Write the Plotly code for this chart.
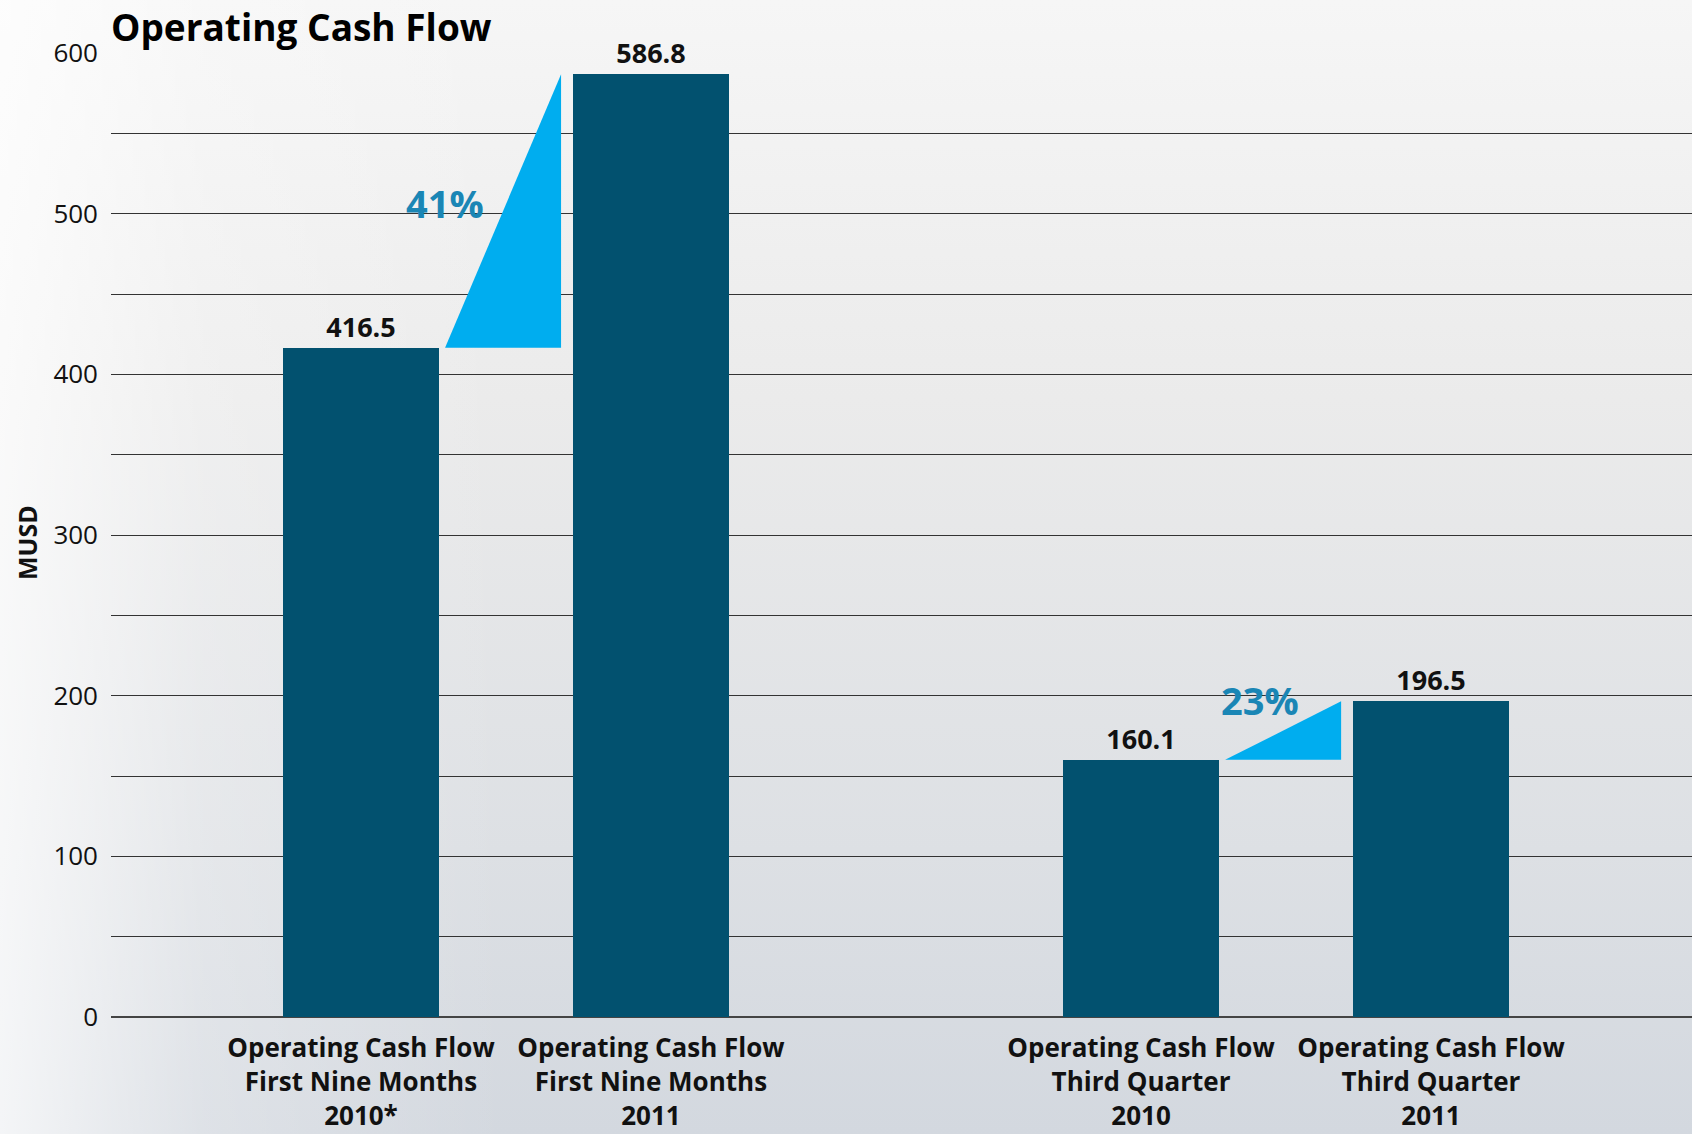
import plotly.graph_objects as go
import urllib.parse

# ---- data ----
categories = [
    "Operating Cash Flow<br>First Nine Months<br>2010*",
    "Operating Cash Flow<br>First Nine Months<br>2011",
    "Operating Cash Flow<br>Third Quarter<br>2010",
    "Operating Cash Flow<br>Third Quarter<br>2011",
]
values = [416.5, 586.8, 160.1, 196.5]
value_labels = ["416.5", "586.8", "160.1", "196.5"]
groups = [0, 0, 1, 1]
growth_labels = ["41%", "23%"]
y_ticks = [0, 100, 200, 300, 400, 500, 600]

# ---- layout helpers ----
GROUP_GAP = 0.69
BAR_W = 0.54
xpos = [i + GROUP_GAP * g for i, g in enumerate(groups)]

BAR_COLOR = "#02516f"
TRI_COLOR = "#00adef"
PCT_COLOR = "#1a86b5"
FONT = "Open Sans"

fig = go.Figure()

# growth triangles between bar pairs
for k in range(2):
    a, b = 2 * k, 2 * k + 1
    x0 = xpos[a] + BAR_W / 2 + 0.02
    x1 = xpos[b] - BAR_W / 2 - 0.04
    fig.add_trace(go.Scatter(
        x=[x0, x1, x1, x0], y=[values[a], values[a], values[b], values[a]],
        mode="lines", fill="toself", fillcolor=TRI_COLOR,
        line=dict(width=0, color=TRI_COLOR), hoverinfo="skip", showlegend=False,
    ))

fig.add_trace(go.Bar(
    x=xpos, y=values, width=BAR_W,
    marker=dict(color=BAR_COLOR, line=dict(width=0)),
    text=value_labels, textposition="outside", cliponaxis=False,
    textfont=dict(family=FONT, size=27, color="#111111", weight="bold"),
    showlegend=False,
))

# background gradient as svg image
svg = (
    "<svg xmlns='http://www.w3.org/2000/svg' width='1692' height='1134'>"
    "<defs>"
    "<linearGradient id='v' x1='0' y1='0' x2='0' y2='1'>"
    "<stop offset='0' stop-color='#f6f6f6'/>"
    "<stop offset='0.35' stop-color='#ebebeb'/>"
    "<stop offset='0.75' stop-color='#dde0e4'/>"
    "<stop offset='1' stop-color='#d3d8df'/>"
    "</linearGradient>"
    "<linearGradient id='h' x1='0' y1='0' x2='1' y2='0'>"
    "<stop offset='0' stop-color='#ffffff' stop-opacity='0.75'/>"
    "<stop offset='0.12' stop-color='#ffffff' stop-opacity='0.25'/>"
    "<stop offset='0.3' stop-color='#ffffff' stop-opacity='0'/>"
    "</linearGradient>"
    "</defs>"
    "<rect width='1692' height='1134' fill='url(#v)'/>"
    "<rect width='1692' height='1134' fill='url(#h)'/>"
    "</svg>"
)
bg_uri = "data:image/svg+xml;charset=utf-8," + urllib.parse.quote(svg)

annotations = []
# growth labels
ann_pos = [
    (xpos[0] + 0.29, (values[0] + values[1]) / 2 + 5),
    (xpos[2] + 0.41, values[3] + 1),
]
for (ax, ay), t in zip(ann_pos, growth_labels):
    annotations.append(dict(
        x=ax, y=ay, xref="x", yref="y", text=t, showarrow=False,
        font=dict(family=FONT, size=38, color=PCT_COLOR, weight="bold"),
        xanchor="center", yanchor="middle",
    ))
# y axis title
annotations.append(dict(
    x=(27 - 111) / 1581, y=(1017 - 543) / 964, xref="paper", yref="paper", text="MUSD",
    textangle=-90, showarrow=False,
    font=dict(family=FONT, size=25, color="#111111", weight="bold"),
    xanchor="center", yanchor="middle",
))

fig.update_layout(
    width=1692, height=1134,
    margin=dict(l=111, r=0, t=53, b=117),
    paper_bgcolor="#eeeeee", plot_bgcolor="rgba(0,0,0,0)",
    images=[dict(source=bg_uri, xref="paper", yref="paper", x=-111 / 1581, y=1 + 53 / 964,
                 sizex=1692 / 1581, sizey=1134 / 964, sizing="stretch",
                 xanchor="left", yanchor="top", layer="below")],
    title=dict(text="<b>Operating Cash Flow</b>", x=111 / 1692, xanchor="left",
               y=1 - 28 / 1134, yanchor="middle", yref="container",
               font=dict(family=FONT, size=37, color="#000000")),
    annotations=annotations,
    bargap=0,
    xaxis=dict(
        range=[-0.862, 4.59], tickmode="array", tickvals=xpos, ticktext=categories,
        showgrid=False, zeroline=False, showline=False, ticks="",
        ticklabelstandoff=13,
        tickfont=dict(family=FONT, size=26, color="#111111", weight="bold"),
        fixedrange=True,
    ),
    yaxis=dict(
        range=[0, 600], tickvals=y_ticks, ticks="", ticklabelstandoff=12,
        showgrid=True, gridcolor="#333333", gridwidth=1.4,
        minor=dict(dtick=50, showgrid=True, gridcolor="#333333", gridwidth=1.4),
        zeroline=True, zerolinecolor="#444444", zerolinewidth=1.8,
        showline=False,
        tickfont=dict(family=FONT, size=26, color="#111111"),
        fixedrange=True,
    ),
    font=dict(family=FONT),
)

fig.write_html("out.html", config={"displayModeBar": False},
               post_script="document.body.style.margin='0';")
